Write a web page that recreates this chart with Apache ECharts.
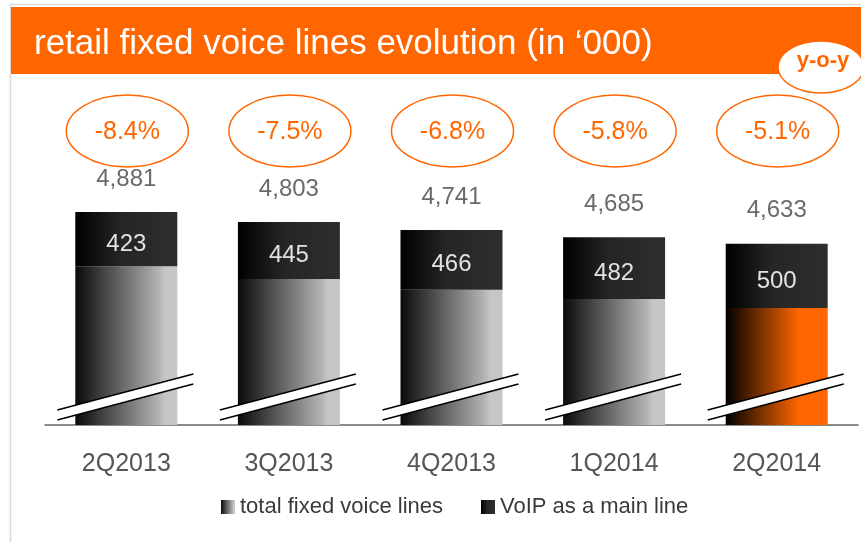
<!DOCTYPE html>
<html>
<head>
<meta charset="UTF-8">
<script src="https://cdn.jsdelivr.net/npm/echarts@6/dist/echarts.min.js"></script>
<style>
html, body { margin: 0; padding: 0; background: #fff; }
#chart { width: 861px; height: 542px; }
</style>
</head>
<body>
<div id="chart"></div>
<script>
// data
var quarters = ['2Q2013', '3Q2013', '4Q2013', '1Q2014', '2Q2014'];
var totalLines = [4881, 4803, 4741, 4685, 4633];
var voipLines = [423, 445, 466, 482, 500];
var yoyChange = ['-8.4%', '-7.5%', '-6.8%', '-5.8%', '-5.1%'];

// non-VoIP part of the total, so the stack adds up to the total
var otherLines = totalLines.map(function (t, i) { return t - voipLines[i]; });

var FONT = 'Liberation Sans, Arial, sans-serif';
var ORANGE = '#ff6600';
// axis is broken on the slide, so the value axis does not start at 0
var yMin = 3220, yMax = 5560;

function hGrad(stops) {
    return new echarts.graphic.LinearGradient(0, 0, 1, 0, stops);
}
var greyGrad = hGrad([
    { offset: 0, color: '#0a0a0a' },
    { offset: 0.82, color: '#b3b3b3' },
    { offset: 0.88, color: '#c6c6c6' },
    { offset: 1, color: '#c6c6c6' }
]);
var orangeGrad = hGrad([
    { offset: 0, color: '#000000' },
    { offset: 0.72, color: ORANGE },
    { offset: 1, color: ORANGE }
]);
var darkGrad = hGrad([
    { offset: 0, color: '#000000' },
    { offset: 0.45, color: '#252525' },
    { offset: 1, color: '#2e2e2e' }
]);

var lastIdx = quarters.length - 1;

var option = {
    animation: false,
    backgroundColor: '#fff',
    title: {
        text: 'retail fixed voice lines evolution (in \u2018000)',
        left: 29,
        top: 22,
        z: 10,
        textStyle: { color: '#fff', fontSize: 35, fontWeight: 'normal', fontFamily: FONT }
    },
    legend: {
        left: 216,
        top: 491,
        itemWidth: 14,
        itemHeight: 14,
        itemGap: 38,
        icon: 'rect',
        textStyle: { fontSize: 22, color: '#3a3a3a', fontFamily: FONT },
        data: ['total fixed voice lines', 'VoIP as a main line']
    },
    grid: { left: 45, right: 3, top: 125, bottom: 117 },
    xAxis: {
        type: 'category',
        data: quarters,
        axisTick: { show: false },
        axisLine: { lineStyle: { color: '#666', width: 1.5 } },
        axisLabel: { margin: 27, fontSize: 25, color: '#555', fontFamily: FONT }
    },
    yAxis: {
        type: 'value',
        min: yMin,
        max: yMax,
        show: false,
        splitLine: { show: false }
    },
    series: [{
        name: 'total fixed voice lines',
        type: 'bar',
        stack: 'lines',
        barWidth: 102,
        clip: true,
        itemStyle: { color: greyGrad },
        data: otherLines.map(function (v, i) {
            return i === lastIdx ? { value: v, itemStyle: { color: orangeGrad } } : v;
        })
    }, {
        name: 'VoIP as a main line',
        type: 'bar',
        stack: 'lines',
        barWidth: 102,
        itemStyle: { color: darkGrad },
        label: {
            show: true,
            position: 'inside',
            offset: [0, 5],
            color: '#e2e2e2',
            fontSize: 24,
            fontFamily: FONT
        },
        data: voipLines
    }]
};

var chart = echarts.init(document.getElementById('chart'));
chart.setOption(option);

// decorations: frame, banner, y-o-y badge, totals, % ellipses, axis breaks
var deco = [
    { type: 'rect', z: 0, shape: { x: 10.5, y: 4.5, width: 860, height: 545 },
      style: { fill: 'none', stroke: '#dadada', lineWidth: 1.5 } },
    { type: 'rect', z: 0, shape: { x: 11, y: 7, width: 850, height: 67 },
      style: { fill: ORANGE } },
    { type: 'ellipse', z: 200, shape: { cx: 821, cy: 67, rx: 43, ry: 26 },
      style: { fill: '#fff', stroke: ORANGE, lineWidth: 1.5 } },
    { type: 'text', z: 201, x: 823, y: 61,
      style: { text: 'y-o-y', fill: ORANGE, font: 'bold 22px ' + FONT, align: 'center', verticalAlign: 'middle' } }
];

quarters.forEach(function (q, i) {
    var top = chart.convertToPixel({ gridIndex: 0 }, [i, totalLines[i]]);
    var base = chart.convertToPixel({ gridIndex: 0 }, [i, yMin]);
    var cx = top[0];
    var by = base[1];

    deco.push({ type: 'text', z: 150, x: cx, y: top[1] - 33,
        style: { text: echarts.format.addCommas(totalLines[i]), fill: '#6a6a6a', font: '24px ' + FONT,
                 align: 'center', verticalAlign: 'middle' } });

    deco.push({ type: 'ellipse', z: 150, shape: { cx: cx + 1, cy: 131, rx: 61, ry: 36 },
        style: { fill: 'none', stroke: ORANGE, lineWidth: 1.5 } });
    deco.push({ type: 'text', z: 151, x: cx + 1, y: 132,
        style: { text: yoyChange[i], fill: ORANGE,
                 font: (i === lastIdx ? '500 25px ' : '25px ') + FONT,
                 align: 'center', verticalAlign: 'middle' } });

    // axis break band across the bar
    var x1 = cx - 69, x2 = cx + 67;
    deco.push({ type: 'polygon', z: 160,
        shape: { points: [[x1, by - 15], [x2, by - 51], [x2, by - 41], [x1, by - 5]] },
        style: { fill: '#fff' } });
    deco.push({ type: 'line', z: 161, shape: { x1: x1, y1: by - 15, x2: x2, y2: by - 51 },
        style: { stroke: '#000', lineWidth: 1.5 } });
    deco.push({ type: 'line', z: 161, shape: { x1: x1, y1: by - 5, x2: x2, y2: by - 41 },
        style: { stroke: '#000', lineWidth: 1.5 } });
});

chart.setOption({ graphic: { elements: deco } });
</script>
</body>
</html>
